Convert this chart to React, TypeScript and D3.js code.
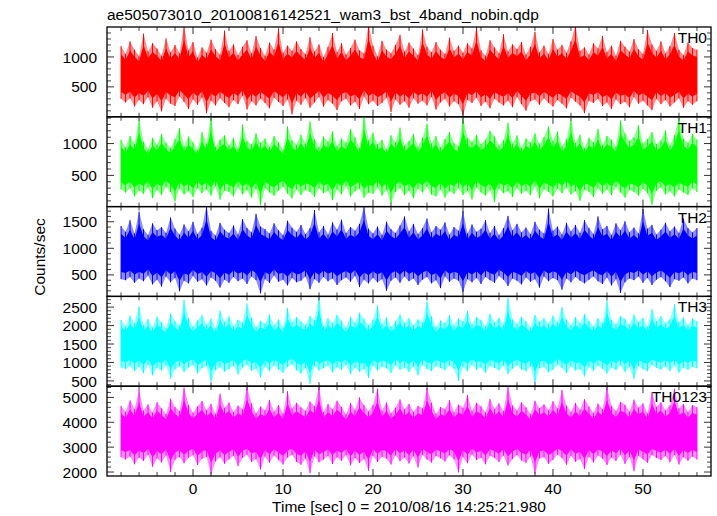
import React from "react";
import * as d3 from "d3";

// Light curves read as per-bin envelopes (max / min of the counts in each 0.5 s bin)
const T_START = -8;
const T_STEP = 0.5;

const th0Max = [
  1180, 1050, 1260, 1120, 1010, 1390, 1090, 1230, 1140, 1020, 1310, 1080, 1200, 1060, 1520, 1110,
  1250, 990, 1160, 1070, 1290, 1130, 1040, 1440, 1100, 1210, 1030, 1170, 1280, 1060, 1350, 1150,
  1020, 1240, 1120, 1480, 1070, 1190, 1100, 1260, 1130, 1050, 1330, 1090, 1210, 1000, 1170, 1400,
  1080, 1230, 1040, 1150, 1290, 1110, 1060, 1550, 1190, 1010, 1270, 1120, 1060, 1200, 1370, 1090,
  1240, 1140, 1030, 1460, 1170, 1080, 1250, 1120, 1050, 1320, 1100, 1190, 1070, 1230, 1140, 1500,
  1110, 1020, 1280, 1160, 1060, 1380, 1090, 1210, 1130, 1250, 1040, 1170, 1420, 1080, 1190, 1050,
  1300, 1120, 1200, 1070, 1260, 1530, 1100, 1160, 1040, 1230, 1140, 1350, 1080, 1190, 1020, 1270,
  1170, 1090, 1300, 1130, 1050, 1450, 1210, 1100, 1260, 1060, 1180, 1400, 1120, 1030, 1240, 1150,
  1120,
];
const th0Min = [
  300, 240, 310, 170, 280, 210, 330, 150, 260, 90, 300, 220, 180, 340, 250, 130,
  290, 200, 320, 60, 270, 190, 310, 230, 160, 280, 210, 350, 120, 260, 190, 300,
  230, 140, 320, 250, 180, 290, 40, 270, 200, 310, 150, 240, 330, 170, 280, 220,
  110, 260, 300, 190, 250, 130, 340, 210, 270, 180, 230, 320, 80, 290, 200, 260,
  150, 310, 220, 270, 190, 330, 120, 240, 300, 170, 260, 210, 20, 280, 230, 320,
  180, 250, 140, 300, 240, 190, 270, 160, 330, 210, 100, 260, 290, 200, 310, 230,
  170, 280, 220, 140, 320, 250, 190, 60, 270, 230, 300, 180, 240, 130, 290, 210,
  250, 160, 330, 220, 270, 190, 110, 300, 210, 280, 170, 240, 310, 150, 260, 200,
  260,
];

const th1Max = [
  1060, 940, 1120, 990, 1380, 1030, 910, 1090, 980, 1150, 1010, 930, 1070, 1240, 960, 1110,
  1020, 900, 1180, 1000, 1420, 950, 1060, 1130, 970, 1090, 920, 1300, 1040, 990, 1160, 1010,
  1080, 950, 1120, 1020, 900, 1270, 1050, 980, 1140, 1000, 1350, 1070, 940, 1110, 1030, 1190,
  960, 1080, 1010, 1230, 1100, 930, 1440, 1050, 1170, 990, 1060, 910, 1130, 1020, 1250, 970,
  1040, 1150, 950, 1090, 1310, 1000, 1120, 940, 1070, 1180, 1010, 960, 1400, 1090, 1030, 1140,
  990, 1060, 1200, 1110, 970, 1050, 1330, 1000, 1130, 940, 1080, 1020, 1160, 990, 1100, 1270,
  1040, 1190, 960, 1070, 1380, 1010, 1140, 930, 1090, 1020, 1230, 980, 1120, 1060, 950, 1360,
  1160, 1040, 1100, 1290, 1000, 1070, 1180, 990, 1050, 1210, 970, 1130, 1420, 1080, 1010, 1150,
  1060,
];
const th1Min = [
  280, 230, 300, 170, 260, 210, 310, 140, 270, 190, 320, 240, 90, 290, 200, 250,
  160, 300, 220, 280, 180, 330, 120, 260, 240, 170, 310, 200, 270, 150, 290, 30,
  300, 230, 180, 260, 320, 210, 140, 280, 190, 270, 240, 160, 300, 220, 260, 110,
  280, 200, 330, 170, 250, 290, 150, 230, 210, 310, 180, 270, 60, 240, 300, 190,
  260, 140, 290, 230, 320, 200, 170, 280, 150, 250, 210, 300, 190, 260, 120, 310,
  230, 180, 270, 80, 290, 220, 250, 160, 300, 210, 260, 190, 330, 140, 280, 240,
  170, 290, 220, 310, 200, 250, 100, 270, 240, 160, 300, 210, 280, 190, 320, 230,
  150, 270, 240, 180, 290, 220, 40, 260, 310, 200, 250, 170, 280, 230, 190, 300,
  240,
];

const th2Max = [
  1420, 1310, 1530, 1280, 1690, 1360, 1250, 1470, 1340, 1400, 1290, 1580, 1370, 1260, 1450, 1320,
  1500, 1270, 1390, 1800, 1330, 1240, 1480, 1350, 1290, 1430, 1260, 1550, 1380, 1300, 1650, 1410,
  1360, 1280, 1470, 1340, 1250, 1520, 1390, 1310, 1440, 1270, 1380, 1720, 1300, 1420, 1260, 1490,
  1350, 1540, 1290, 1400, 1330, 1460, 1780, 1370, 1280, 1410, 1250, 1500, 1360, 1290, 1430, 1600,
  1320, 1460, 1270, 1380, 1560, 1300, 1420, 1350, 1490, 1260, 1400, 1330, 1700, 1280, 1450, 1310,
  1370, 1530, 1290, 1420, 1250, 1380, 1610, 1340, 1460, 1300, 1390, 1270, 1500, 1350, 1280, 1750,
  1330, 1410, 1260, 1480, 1320, 1440, 1290, 1530, 1380, 1270, 1600, 1360, 1420, 1250, 1470, 1340,
  1510, 1300, 1390, 1280, 1740, 1370, 1440, 1260, 1350, 1480, 1320, 1410, 1290, 1560, 1380, 1300,
  1380,
];
const th2Min = [
  420, 400, 460, 350, 430, 380, 490, 320, 410, 280, 470, 360, 440, 190, 390, 340,
  480, 370, 420, 300, 450, 390, 260, 410, 350, 460, 380, 430, 330, 470, 400, 150,
  420, 350, 490, 370, 410, 300, 440, 360, 390, 470, 230, 420, 350, 460, 380, 430,
  310, 400, 450, 370, 480, 270, 410, 340, 440, 360, 420, 200, 390, 450, 350, 470,
  380, 430, 310, 410, 460, 340, 400, 250, 470, 370, 430, 390, 180, 420, 360, 440,
  330, 460, 400, 350, 480, 410, 290, 430, 390, 320, 450, 370, 420, 260, 470, 380,
  440, 400, 220, 430, 360, 460, 390, 340, 410, 470, 380, 330, 450, 300, 420, 160,
  360, 430, 400, 470, 350, 440, 310, 410, 460, 380, 270, 420, 390, 450, 340, 430,
  400,
];

const th3Max = [
  2150, 1980, 2270, 2060, 2520, 2010, 2180, 1950, 2240, 2090, 1930, 2330, 2120, 2000, 2700, 2200,
  1970, 2140, 2280, 2030, 2190, 1920, 2410, 2100, 2250, 1990, 2160, 2080, 2600, 2210, 1960, 2130,
  2050, 2300, 2010, 2170, 1940, 2480, 2090, 2230, 2110, 2020, 2260, 2150, 2790, 1980, 2200, 2060,
  2290, 2130, 1950, 2240, 2070, 2350, 2180, 2010, 2160, 2550, 2040, 2220, 1970, 2120, 2300, 2080,
  2200, 2010, 2170, 2090, 2650, 2250, 1960, 2140, 2060, 2280, 2000, 2190, 2110, 2400, 2030, 2230,
  2150, 1990, 2320, 2080, 2210, 2020, 2760, 2170, 2040, 2240, 2120, 1950, 2290, 2100, 2200, 2050,
  2270, 2090, 2500, 2160, 2010, 2230, 2060, 2310, 2130, 1980, 2200, 2070, 2680, 2150, 2040, 2260,
  2180, 2020, 2300, 2100, 2210, 1970, 2450, 2120, 2250, 2060, 2170, 2580, 2090, 2220, 2010, 2190,
  2120,
];
const th3Min = [
  860, 820, 900, 760, 880, 710, 940, 650, 850, 780, 920, 560, 810, 890, 740, 860,
  930, 700, 840, 900, 480, 790, 870, 750, 820, 910, 680, 860, 940, 770, 830, 600,
  890, 760, 920, 810, 720, 880, 950, 790, 700, 850, 420, 900, 780, 840, 910, 730,
  870, 800, 930, 690, 860, 750, 820, 580, 910, 780, 880, 840, 710, 920, 800, 860,
  740, 890, 650, 930, 820, 770, 900, 850, 790, 920, 830, 500, 880, 760, 940, 810,
  860, 720, 900, 850, 780, 910, 690, 830, 920, 810, 760, 890, 450, 840, 870, 730,
  800, 940, 850, 710, 900, 780, 820, 620, 880, 770, 910, 830, 700, 860, 790, 920,
  740, 870, 550, 900, 820, 760, 930, 850, 810, 890, 770, 920, 720, 860, 800, 880,
  840,
];

const th0123Max = [
  4650, 4420, 4880, 4530, 5300, 4470, 4720, 4390, 4810, 4560, 4330, 4950, 4610, 4450, 5400, 4700,
  4380, 4640, 4860, 4490, 4740, 4340, 5150, 4580, 4790, 4410, 4670, 4520, 5450, 4760, 4360, 4630,
  4480, 4900, 4430, 4690, 4350, 5250, 4550, 4780, 4600, 4460, 4830, 4650, 5420, 4400, 4730, 4510,
  4870, 4620, 4320, 4770, 4500, 5000, 4680, 4440, 4700, 5350, 4470, 4800, 4370, 4590, 4920, 4520,
  4740, 4420, 4660, 4560, 5380, 4790, 4340, 4610, 4530, 4890, 4410, 4710, 4580, 5100, 4460, 4780,
  4640, 4390, 4940, 4540, 4760, 4450, 5440, 4680, 4470, 4800, 4600, 4330, 4870, 4570, 4720, 4490,
  4850, 4560, 5300, 4670, 4420, 4780, 4500, 4930, 4630, 4380, 4750, 4520, 5420, 4660, 4450, 4820,
  4700, 4430, 4910, 4590, 4760, 4360, 5200, 4620, 4800, 4480, 4680, 5350, 4550, 4740, 4410, 4690,
  4600,
];
const th0123Min = [
  2600, 2500, 2620, 2310, 2580, 2440, 2690, 2210, 2550, 2380, 2660, 2000, 2490, 2600, 2350, 2570,
  2680, 2280, 2530, 2610, 1900, 2420, 2590, 2330, 2510, 2650, 2240, 2560, 2700, 2400, 2520, 2100,
  2620, 2370, 2660, 2470, 2300, 2580, 2690, 2410, 2290, 2540, 1950, 2630, 2390, 2500, 2640, 2320,
  2590, 2450, 2680, 2270, 2560, 2360, 2520, 2050, 2650, 2400, 2610, 2540, 2300, 2670, 2430, 2580,
  2340, 2630, 2180, 2690, 2500, 2380, 2640, 2550, 2420, 2670, 2510, 1980, 2600, 2350, 2700, 2480,
  2570, 2310, 2650, 2560, 2400, 2660, 2260, 2520, 2680, 2460, 2370, 2620, 1920, 2540, 2590, 2330,
  2490, 2700, 2560, 2290, 2650, 2410, 2520, 2120, 2610, 2380, 2660, 2530, 2280, 2580, 2440, 2690,
  2320, 2600, 2030, 2650, 2510, 2370, 2680, 2560, 2480, 2640, 2390, 2690, 2300, 2600, 2450, 2620,
  2500,
];

const panelNames = ["TH0", "TH1", "TH2", "TH3", "TH0123"];
const panelMax = [th0Max, th1Max, th2Max, th3Max, th0123Max];
const panelMin = [th0Min, th1Min, th2Min, th3Min, th0123Min];
const panelDomains: [number, number][] = [
  [0, 1500],
  [10, 1420],
  [95, 1785],
  [357, 2790],
  [1840, 5450],
];
const panelMajorTicks = [
  [500, 1000],
  [500, 1000],
  [500, 1000, 1500],
  [500, 1000, 1500, 2000, 2500],
  [2000, 3000, 4000, 5000],
];
const panelMinorSteps = [100, 100, 100, 100, 200];
const panelColors = ["#ff0000", "#00ff00", "#0000ff", "#00ffff", "#ff00ff"];

const xDomain: [number, number] = [-9.56, 57.56];
const xMajorTicks = [0, 10, 20, 30, 40, 50];
const xMinorStep = 2;

const TITLE = "ae505073010_20100816142521_wam3_bst_4band_nobin.qdp";
const X_LABEL = "Time [sec] 0 = 2010/08/16 14:25:21.980";
const Y_LABEL = "Counts/sec";

const W = 717;
const H = 516;
const L = 107;
const R = 711;
const TOP = 27;
const BOT = 476;
const FONT = "'Liberation Sans', Arial, Helvetica, sans-serif";
const FS = 15.5;
const CORE = 0.72; // share of the envelope drawn as the dense, fully saturated core

export default function App() {
  const x = d3.scaleLinear().domain(xDomain).range([L, R]);
  const ph = (BOT - TOP) / panelNames.length;
  const xMinor = d3.range(-8, 57, xMinorStep).filter((t) => t % 10 !== 0);
  const tAt = (j: number) => T_START + j * T_STEP;

  return (
    <svg
      width={W}
      height={H}
      style={{ display: "block", position: "absolute", left: 0, top: 0, background: "#fff" }}
      fontFamily={FONT}
    >
      <rect x={0} y={0} width={W} height={H} fill="#fff" />
      <defs>
        {panelNames.map((n, i) => (
          <clipPath id={`clip${i}`} key={n}>
            <rect x={L} y={TOP + i * ph} width={R - L} height={ph} />
          </clipPath>
        ))}
      </defs>
      <text x={L} y={20} fontSize={FS}>
        {TITLE}
      </text>
      {panelNames.map((name, i) => {
        const y0 = TOP + i * ph;
        const y1 = y0 + ph;
        const dom = panelDomains[i];
        const y = d3.scaleLinear().domain(dom).range([y1, y0]);
        const hi = panelMax[i];
        const lo = panelMin[i];
        const mid = (d3.mean(hi)! + d3.mean(lo)!) / 2;
        const shrink = (v: number) => mid + CORE * (v - mid);
        const outer = d3
          .area<number>()
          .x((_, j) => x(tAt(j)))
          .y0((_, j) => y(lo[j]))
          .y1((d) => y(d));
        const core = d3
          .area<number>()
          .x((_, j) => x(tAt(j)))
          .y0((_, j) => y(shrink(lo[j])))
          .y1((d) => y(shrink(d)));
        const step = panelMinorSteps[i];
        const minor = d3
          .range(Math.ceil(dom[0] / step) * step, dom[1], step)
          .filter((v) => !panelMajorTicks[i].includes(v));
        const c = panelColors[i];
        return (
          <g key={name}>
            <g clipPath={`url(#clip${i})`}>
              <path d={outer(hi) || ""} fill={c} fillOpacity={0.45} />
              <path d={core(hi) || ""} fill={c} />
              {hi.map((v, j) => (
                <line
                  key={j}
                  x1={x(tAt(j))}
                  x2={x(tAt(j))}
                  y1={y(v)}
                  y2={y(lo[j])}
                  stroke={c}
                  strokeWidth={1}
                />
              ))}
            </g>
            {panelMajorTicks[i].map((v) => (
              <g key={`M${v}`}>
                <line x1={L} x2={L + 7} y1={y(v)} y2={y(v)} stroke="#333" strokeWidth={1} />
                <line x1={R} x2={R - 7} y1={y(v)} y2={y(v)} stroke="#333" strokeWidth={1} />
                <text x={L - 10} y={y(v)} dy="0.36em" textAnchor="end" fontSize={FS}>
                  {v}
                </text>
              </g>
            ))}
            {minor.map((v) => (
              <g key={`m${v}`}>
                <line x1={L} x2={L + 4} y1={y(v)} y2={y(v)} stroke="#444" strokeWidth={1} />
                <line x1={R} x2={R - 4} y1={y(v)} y2={y(v)} stroke="#444" strokeWidth={1} />
              </g>
            ))}
            {xMajorTicks.map((t) => (
              <g key={`X${t}`}>
                <line x1={x(t)} x2={x(t)} y1={y0} y2={y0 + 7} stroke="#333" strokeWidth={1} />
                <line x1={x(t)} x2={x(t)} y1={y1} y2={y1 - 7} stroke="#333" strokeWidth={1} />
              </g>
            ))}
            {xMinor.map((t) => (
              <g key={`x${t}`}>
                <line x1={x(t)} x2={x(t)} y1={y0} y2={y0 + 4} stroke="#444" strokeWidth={1} />
                <line x1={x(t)} x2={x(t)} y1={y1} y2={y1 - 4} stroke="#444" strokeWidth={1} />
              </g>
            ))}
            <rect x={L} y={y0} width={R - L} height={ph} fill="none" stroke="#000" strokeWidth={1.3} />
            <text x={R - 4} y={y0 + 16} textAnchor="end" fontSize={FS}>
              {name}
            </text>
          </g>
        );
      })}
      {xMajorTicks.map((t) => (
        <text key={`xl${t}`} x={x(t)} y={BOT + 18} textAnchor="middle" fontSize={FS}>
          {t}
        </text>
      ))}
      <text x={(L + R) / 2} y={BOT + 36} textAnchor="middle" fontSize={FS}>
        {X_LABEL}
      </text>
      <text transform={`translate(45, 257) rotate(-90)`} textAnchor="middle" fontSize={FS}>
        {Y_LABEL}
      </text>
    </svg>
  );
}
